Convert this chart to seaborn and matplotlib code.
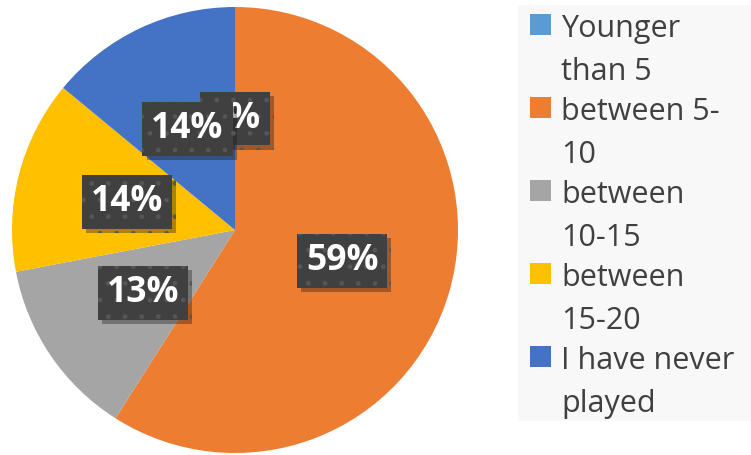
import matplotlib
matplotlib.use("Agg")
import matplotlib.pyplot as plt
import matplotlib.patheffects as pe
from matplotlib.patches import Rectangle
import seaborn as sns

categories = ["Younger than 5", "between 5-10", "between 10-15", "between 15-20", "I have never played"]
legend_labels = [["Younger", "than 5"], ["between 5-", "10"], ["between", "10-15"],
                 ["between", "15-20"], ["I have never", "played"]]
values = [0, 59, 13, 14, 14]
colors = ["#5B9BD5", "#ED7D31", "#A5A5A5", "#FFC000", "#4472C4"]

sns.set_theme(style="white")
plt.rcParams["font.family"] = ["Open Sans", "DejaVu Sans"]

W, H = 751, 455
fig = plt.figure(figsize=(W / 100, H / 100), dpi=100)
fig.patch.set_facecolor("white")

cx, cy, r = 235, 230, 223
ax = fig.add_axes([(cx - r) / W, (H - cy - r) / H, 2 * r / W, 2 * r / H])
wedges, texts, autotexts = ax.pie(
    values, colors=colors, startangle=90, counterclock=False,
    autopct="%1.0f%%", pctdistance=0.5, radius=1,
    wedgeprops=dict(linewidth=0),
    textprops=dict(color="white", fontsize=25.5, fontweight="bold"),
)
ax.set_xlim(-1, 1)
ax.set_ylim(-1, 1)
ax.set_aspect("equal")
ax.axis("off")

for t in autotexts:
    t.set_bbox(dict(boxstyle="square,pad=0.25", facecolor="#404040",
                    edgecolor="#565656", hatch=".", linewidth=0))
    bp = t.get_bbox_patch()
    bp.set_path_effects([pe.SimplePatchShadow(offset=(3, -3), alpha=0.35), pe.Normal()])

# Legend panel
lx0, ly0, lx1, ly1 = 518, 5, 751, 421
fig.patches.append(Rectangle((lx0 / W, 1 - ly1 / H), (lx1 - lx0) / W, (ly1 - ly0) / H,
                             transform=fig.transFigure, facecolor="#f8f8f8",
                             edgecolor="none", zorder=0))
entry_gap = 83
line_gap = 43
for i, (lines, col) in enumerate(zip(legend_labels, colors)):
    top = 14 + i * entry_gap
    fig.patches.append(Rectangle((530 / W, 1 - (top + 21) / H), 21 / W, 21 / H,
                                 transform=fig.transFigure, facecolor=col,
                                 edgecolor="none", zorder=1))
    for j, line in enumerate(lines):
        fig.text(561 / W, 1 - (top + 23 + j * line_gap) / H, line, fontsize=22,
                 color="#404040", ha="left", va="baseline")

fig.savefig("out.png", dpi=100)
